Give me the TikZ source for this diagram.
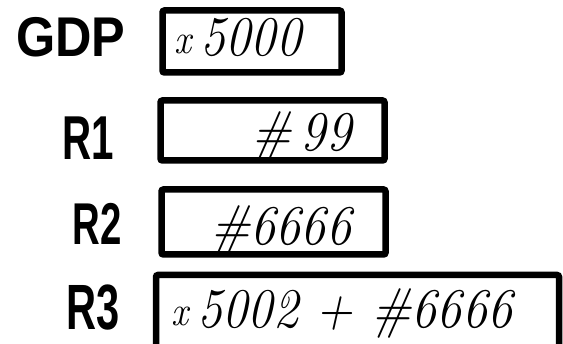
\documentclass[tikz,border=0pt]{standalone}
\usepackage{fontspec}
\newfontfamily\markerfont{Liberation Sans}[FakeStretch=0.65]
\newfontfamily\widemarkerfont{Liberation Sans}[FakeStretch=0.9]
\newfontfamily\handfont{Latin Modern Roman}[FakeStretch=0.9]
\newcommand{\smalltimes}{{\fontsize{42}{42}\selectfont\raisebox{2pt}{x}}}
\begin{document}
\begin{tikzpicture}[x=1pt,y=-1pt]
  \tikzstyle{regbox}=[draw=black, line width=6.5pt, rounded corners=2pt, inner sep=0pt]
  \tikzstyle{reglabel}=[inner sep=0pt, anchor=base]
  \tikzstyle{content}=[font=\handfont\itshape\fontsize{56}{56}\selectfont, inner sep=0pt, anchor=base west]

  \clip (0,0) rectangle (563,344);

  \node[reglabel, font=\widemarkerfont\bfseries\fontsize{56}{56}\selectfont] (gdp) at (71,57) {GDP};
  \node[regbox, minimum width=179pt, minimum height=62pt] (gdpbox) at (252,41.5) {};
  \node[content] (gdpval) at (174,56) {\smalltimes\,5000};

  \node[reglabel, font=\markerfont\bfseries\fontsize{62}{62}\selectfont] (rone) at (88.5,160) {R1};
  \node[regbox, minimum width=224pt, minimum height=60pt] (ronebox) at (272.5,130.5) {};
  \node[content] (roneval) at (251,151) {\#\,99};

  \node[reglabel, font=\markerfont\bfseries\fontsize{59}{59}\selectfont] (rtwo) at (97.5,245) {R2};
  \node[regbox, minimum width=224pt, minimum height=65pt] (rtwobox) at (273.5,222) {};
  \node[content] (rtwoval) at (210,245) {\#6666};

  \node[reglabel, font=\markerfont\bfseries\fontsize{64}{64}\selectfont] (rthree) at (93.5,330) {R3};
  \node[regbox, minimum width=403pt, minimum height=90pt] (rthreebox) at (357.5,320) {};
  \node[content] (rthreeval) at (171,328) {\smalltimes\,5002 + \#6666};
\end{tikzpicture}
\end{document}
